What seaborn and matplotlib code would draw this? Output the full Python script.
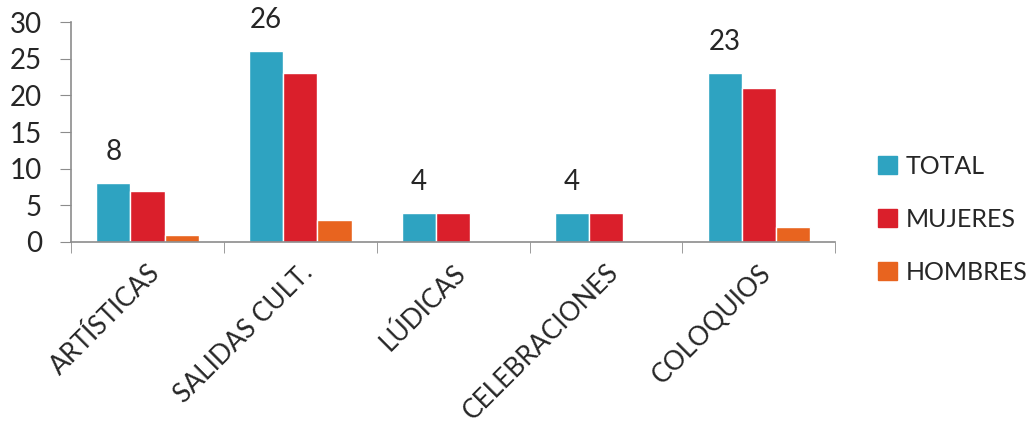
import pandas as pd
import seaborn as sns
import matplotlib.pyplot as plt
from matplotlib.ticker import FixedLocator

categories = ['ARTÍSTICAS', 'SALIDAS CULT.', 'LÚDICAS', 'CELEBRACIONES', 'COLOQUIOS']
total = [8, 26, 4, 4, 23]
mujeres = [7, 23, 4, 4, 21]
hombres = [1, 3, 0, 0, 2]
series = ['TOTAL', 'MUJERES', 'HOMBRES']
colors = ['#2EA3C1', '#DA1F2B', '#E8641F']

rows = []
for i, cat in enumerate(categories):
    rows.append((cat, 'TOTAL', total[i]))
    rows.append((cat, 'MUJERES', mujeres[i]))
    rows.append((cat, 'HOMBRES', hombres[i]))
df = pd.DataFrame(rows, columns=['cat', 'serie', 'valor'])

sns.set_style('white')
plt.rcParams['font.family'] = ['Lato', 'DejaVu Sans']

fig = plt.figure(figsize=(10.31, 4.26), dpi=100)
ax = fig.add_axes([0.069, 0.432, 0.741, 0.516])

sns.barplot(data=df, x='cat', y='valor', hue='serie', hue_order=series,
            palette=colors, width=0.67, saturation=1, ax=ax, legend=False)

# etiquetas solo sobre las barras TOTAL
for bar, v in zip(ax.containers[0], total):
    ax.annotate(str(v), (bar.get_x() + bar.get_width() / 2, bar.get_height()),
                xytext=(0, 13), textcoords='offset points',
                ha='center', va='bottom', fontsize=20, annotation_clip=False)

ax.set_xlim(-0.5, len(categories) - 0.5)
ax.set_ylim(0, 30)
ax.set_yticks(range(0, 31, 5))
ax.set_xlabel('')
ax.set_ylabel('')
ax.set_xticks(range(len(categories)))
ax.set_xticklabels(categories, rotation=45, ha='right', rotation_mode='anchor', fontsize=19)
ax.tick_params(axis='x', which='major', length=0, pad=13)
ax.xaxis.set_minor_locator(FixedLocator([i - 0.5 for i in range(len(categories) + 1)]))
ax.tick_params(axis='x', which='minor', length=8, color='#8c8c8c', direction='out', bottom=True)
ax.tick_params(axis='y', length=8, color='#8c8c8c', direction='out', left=True, labelsize=20, pad=13)

for s in ['top', 'right']:
    ax.spines[s].set_visible(False)
for s in ['left', 'bottom']:
    ax.spines[s].set_color('#8c8c8c')
    ax.spines[s].set_linewidth(1.2)

handles = [plt.Rectangle((0, 0), 1, 1, color=c) for c in colors]
fig.legend(handles, series, loc='upper left', bbox_to_anchor=(0.83, 0.69),
           frameon=False, fontsize=18, handlelength=0.75, handleheight=0.75,
           handletextpad=0.35, labelspacing=1.2)

fig.savefig('out.png', dpi=100)
